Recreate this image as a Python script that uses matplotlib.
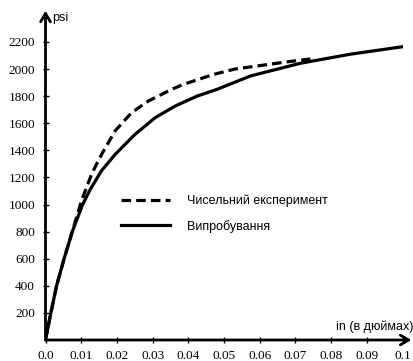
import matplotlib
matplotlib.use('Agg')
from matplotlib import pyplot as plt

# Data
x_test = [0.0, 0.0015, 0.0031, 0.0052, 0.0075, 0.0104, 0.0125, 0.0157, 0.0195, 0.0251,
          0.0307, 0.0363, 0.0424, 0.048, 0.0574, 0.0714, 0.0854, 0.1]
y_test = [0, 200, 400, 600, 800, 1000, 1110, 1250, 1370, 1519,
          1641, 1727, 1800, 1850, 1949, 2043, 2110, 2165]

x_num = [0.0, 0.0015, 0.0031, 0.0052, 0.0075, 0.0101, 0.0130, 0.0157, 0.0195, 0.0241,
         0.0288, 0.0353, 0.0386, 0.047, 0.053, 0.0667, 0.0742]
y_num = [0, 200, 400, 600, 800, 1030, 1230, 1370, 1544, 1678,
         1764, 1850, 1887, 1960, 2000, 2050, 2075]

x_ticks = [0.0, 0.01, 0.02, 0.03, 0.04, 0.05, 0.06, 0.07, 0.08, 0.09, 0.1]
x_labels = ['0.0', '0.01', '0.02', '0.03', '0.04', '0.05', '0.06', '0.07', '0.08', '0.09', '0.1']
y_ticks = [200, 400, 600, 800, 1000, 1200, 1400, 1600, 1800, 2000, 2200]

label_num = 'Чисельний експеримент'
label_test = 'Випробування'

W, H = 413, 361
fig = plt.figure(figsize=(W / 100, H / 100), dpi=100)
ax = fig.add_axes([45.5 / W, (H - 340) / H, 357 / W, 298 / H])

ax.plot(x_num, y_num, color='black', lw=2.3, linestyle=(0, (3, 1.6)), label=label_num)
ax.plot(x_test, y_test, color='black', lw=2.3, label=label_test)

ax.set_xlim(0, 0.1)
ax.set_ylim(0, 2200)
for s in ax.spines.values():
    s.set_visible(False)

# axes drawn as arrows
arrow = dict(arrowstyle='->,head_length=0.6,head_width=0.35', lw=2, color='black',
             shrinkA=0, shrinkB=0)
ax.annotate('', xy=(1.025, 0), xytext=(0, 0), xycoords='axes fraction', arrowprops=arrow,
            annotation_clip=False)
ax.annotate('', xy=(0, 1.105), xytext=(0, 0), xycoords='axes fraction', arrowprops=arrow,
            annotation_clip=False)

ax.set_xticks(x_ticks)
ax.set_xticklabels(x_labels)
ax.set_yticks(y_ticks)
ax.tick_params(direction='inout', length=5, width=1, pad=5, labelsize=9.5)
for t in ax.get_xticklabels() + ax.get_yticklabels():
    t.set_family('Liberation Serif')

ax.text(0.018, 1.08, 'psi', transform=ax.transAxes, family='Liberation Sans', fontsize=9,
        va='center', ha='left')
ax.text(1.03, 0.045, 'in (в дюймах)', transform=ax.transAxes, family='Liberation Sans',
        fontsize=9, va='center', ha='right')

leg = ax.legend(loc='upper left', bbox_to_anchor=(0.18, 0.525), frameon=False,
                prop={'family': 'Liberation Sans', 'size': 9},
                handlelength=3.9, handletextpad=1.4, labelspacing=1.0)

fig.savefig('out.png', dpi=100)
